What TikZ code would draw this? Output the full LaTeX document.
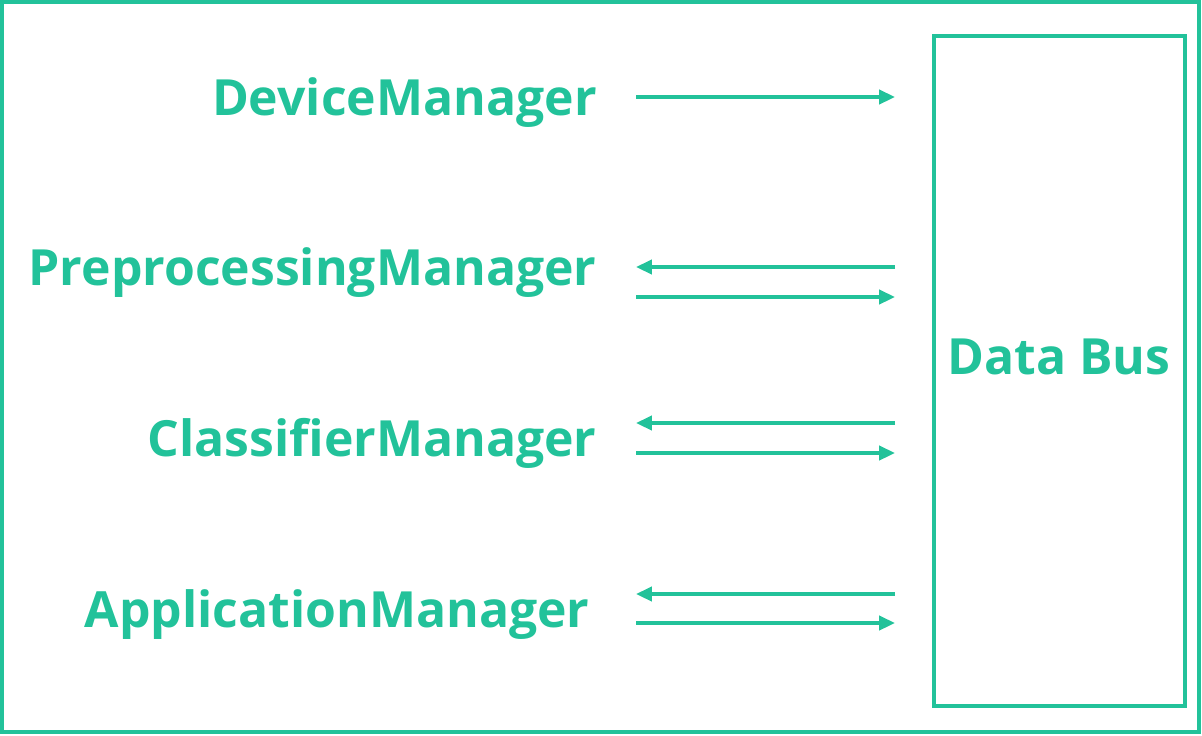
\documentclass[tikz,border=0pt]{standalone}
\usepackage{fontspec}
\setmainfont{Open Sans}
\usetikzlibrary{arrows.meta}
\definecolor{busgreen}{HTML}{22C29A}

\begin{document}
\begin{tikzpicture}[x=0.02cm, y=-0.02cm]
        % ================= styles =================
        \tikzset{
            % manager labels, right aligned
            mlabel/.style={anchor=east, inner sep=0pt, text=busgreen, font=\fontsize{28.4}{31}\selectfont\bfseries},
            % connectors
            link/.style={busgreen, line width=2pt, -{Triangle[length=9pt, width=8pt]}},
            frame/.style={draw=busgreen, line width=2.2pt}
        }
        \useasboundingbox (0,0) rectangle (1202,735);

        % ================= outer frame and bus =================
        \draw[frame] (2,2) rectangle (1199,732);
        \node[frame, minimum width=5.02cm, minimum height=13.4cm, inner sep=0pt] (bus) at (1059.5,371) {};
        \node[text=busgreen, font=\fontsize{28.4}{31}\selectfont\bfseries] (buslabel) at (1059,357) {Data Bus};

        % ================= managers =================
        \node[mlabel] (dev) at (597,103) {DeviceManager};
        \node[mlabel] (pre) at (597,273) {PreprocessingManager};
        \node[mlabel] (cla) at (597,443) {ClassifierManager};
        \node[mlabel] (app) at (590,615) {ApplicationManager};

        % ================= connector ends =================
        \coordinate (d0) at (636,97);   \coordinate (d1) at (895,97);
        \coordinate (p0) at (636,267);  \coordinate (p1) at (895,267);
        \coordinate (p2) at (636,297);  \coordinate (p3) at (895,297);
        \coordinate (c0) at (636,423);  \coordinate (c1) at (895,423);
        \coordinate (c2) at (636,453);  \coordinate (c3) at (895,453);
        \coordinate (a0) at (636,594);  \coordinate (a1) at (895,594);
        \coordinate (a2) at (636,623);  \coordinate (a3) at (895,623);

        \draw[link] (d0) -- (d1);
        \draw[link] (p1) -- (p0);
        \draw[link] (p2) -- (p3);
        \draw[link] (c1) -- (c0);
        \draw[link] (c2) -- (c3);
        \draw[link] (a1) -- (a0);
        \draw[link] (a2) -- (a3);
\end{tikzpicture}
\end{document}
